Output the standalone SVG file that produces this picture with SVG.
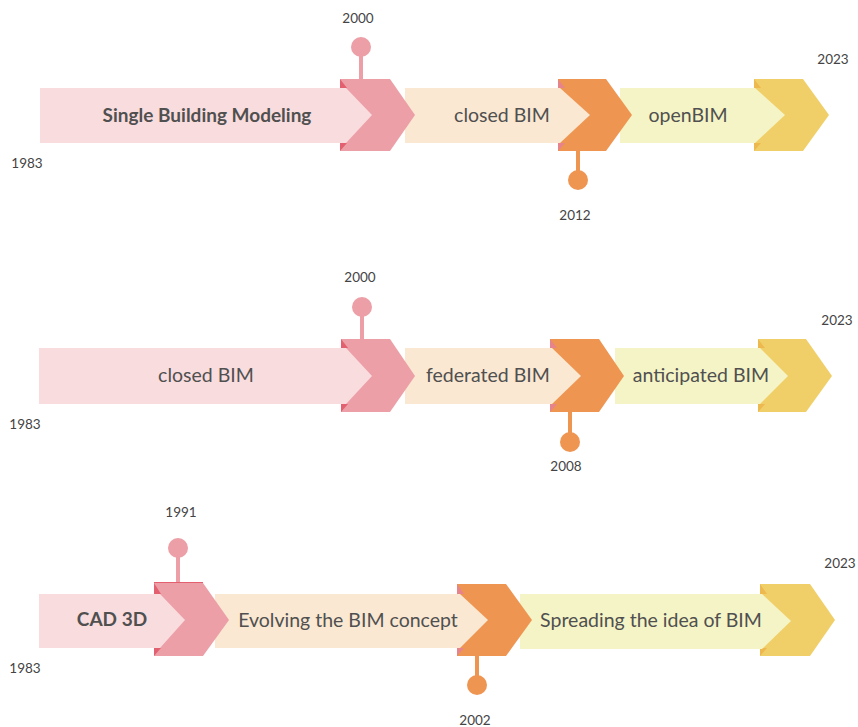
<svg xmlns="http://www.w3.org/2000/svg" width="858" height="727" viewBox="0 0 858 727">
<style>
.bp{fill:#F9DDDE}.bpe{fill:#FAE8D3}.by{fill:#F5F4C6}
.cp{fill:#EC9FA6}.co{fill:#EF9552}.cy{fill:#F0CF68}
.tp{fill:#E2606F}.to{fill:#E7838A}.ty{fill:#EDB84E}
.lbl{font-family:Lato,"Liberation Sans",sans-serif;font-size:19.5px;fill:#505050;text-anchor:middle}
.b{font-weight:bold;font-size:19px}
.yr{font-family:Lato,"Liberation Sans",sans-serif;font-size:13.5px;fill:#444;text-anchor:middle}
</style>
<rect width="858" height="727" fill="#fff"/>

<!-- Row 1 -->
<g id="r1-yellow-chevron"><polygon class="cy" points="754,79 803,79 829,115 803,151 754,151"/><polygon class="ty" points="754,79 754,88 761,88"/><polygon class="ty" points="754,143 761,143 754,151"/></g>
<g id="r1-openbim"><polygon class="by" points="620,88 755,88 785,115 755,143 620,143"/><text class="lbl" x="688" y="122">openBIM</text></g>
<g id="r1-m2012"><rect class="co" x="576" y="151" width="4" height="29"/><circle class="co" cx="578" cy="180" r="10"/><polygon class="co" points="558,79 606,79 632,115 606,151 558,151"/><polygon class="to" points="558,79 558,88 565,88"/><polygon class="to" points="558,143 565,143 558,151"/></g>
<g id="r1-closed"><polygon class="bpe" points="405,88 560,88 590,115 560,143 405,143"/><text class="lbl" x="502" y="122">closed BIM</text></g>
<g id="r1-m2000"><rect class="cp" x="359" y="47" width="4" height="32"/><circle class="cp" cx="361" cy="47" r="10"/><polygon class="cp" points="340,79 390,79 415,115 390,151 340,151"/><polygon class="tp" points="340,79 340,88 347,88"/><polygon class="tp" points="340,143 347,143 340,151"/></g>
<g id="r1-single"><polygon class="bp" points="40,88 346,88 372,115 346,143 40,143"/><text class="lbl b" x="207" y="122">Single Building Modeling</text></g>
<g id="r1-years"><text class="yr" x="358" y="23">2000</text><text class="yr" x="575" y="220">2012</text><text class="yr" x="833" y="64">2023</text><text class="yr" x="27" y="168">1983</text></g>

<!-- Row 2 -->
<g id="r2-yellow-chevron"><polygon class="cy" points="758,339 806,339 832,376 806,412 758,412"/><polygon class="ty" points="758,339 758,348 765,348"/><polygon class="ty" points="758,404 765,404 758,412"/></g>
<g id="r2-anticipated"><polygon class="by" points="615,348 760,348 788,376 760,404 615,404"/><text class="lbl" x="701" y="382">anticipated BIM</text></g>
<g id="r2-m2008"><rect class="co" x="568" y="412" width="4" height="30"/><circle class="co" cx="570" cy="442" r="10"/><polygon class="co" points="550,339 599,339 624,376 599,412 550,412"/><polygon class="to" points="550,339 550,348 557,348"/><polygon class="to" points="550,404 557,404 550,412"/></g>
<g id="r2-federated"><polygon class="bpe" points="405,348 552,348 581,376 552,404 405,404"/><text class="lbl" x="488" y="382">federated BIM</text></g>
<g id="r2-m2000"><rect class="cp" x="360" y="307" width="4" height="32"/><circle class="cp" cx="362" cy="307" r="10"/><polygon class="cp" points="341,339 390,339 415,376 390,412 341,412"/><polygon class="tp" points="341,339 341,348 348,348"/><polygon class="tp" points="341,404 348,404 341,412"/></g>
<g id="r2-closed"><polygon class="bp" points="39,348 346,348 372,376 346,404 39,404"/><text class="lbl" x="206" y="382">closed BIM</text></g>
<g id="r2-years"><text class="yr" x="360" y="282">2000</text><text class="yr" x="566" y="471">2008</text><text class="yr" x="837" y="325">2023</text><text class="yr" x="25" y="429">1983</text></g>

<!-- Row 3 -->
<g id="r3-yellow-chevron"><polygon class="cy" points="760,584 810,584 835,620 810,656 760,656"/><polygon class="ty" points="760,584 760,594 767,594"/><polygon class="ty" points="760,648 767,648 760,656"/></g>
<g id="r3-spreading"><polygon class="by" points="520,594 762,594 791,621 762,649 520,649"/><text class="lbl" x="651" y="627">Spreading the idea of BIM</text></g>
<g id="r3-m2002"><rect class="co" x="475" y="656" width="4" height="29"/><circle class="co" cx="477" cy="685" r="10"/><polygon class="co" points="457,584 506,584 532,620 506,656 457,656"/><polygon class="to" points="457,584 457,594 464,594"/><polygon class="to" points="457,648 464,648 457,656"/></g>
<g id="r3-evolving"><polygon class="bpe" points="215,594 460,594 488,620 460,648 215,648"/><text class="lbl" x="348" y="627">Evolving the BIM concept</text></g>
<g id="r3-m1991"><rect class="cp" x="176" y="548" width="4" height="35"/><circle class="cp" cx="178" cy="548" r="10"/><rect class="tp" x="154" y="582" width="49" height="2"/><polygon class="cp" points="154,583 203,583 229,620 203,656 154,656"/><polygon class="tp" points="154,583 154,594 161,594"/><polygon class="tp" points="154,648 161,648 154,656"/></g>
<g id="r3-cad"><polygon class="bp" points="39,594 160,594 185,620 160,648 39,648"/><text class="lbl b" x="112" y="626">CAD 3D</text></g>
<g id="r3-years"><text class="yr" x="181" y="517">1991</text><text class="yr" x="475" y="725">2002</text><text class="yr" x="840" y="568">2023</text><text class="yr" x="25" y="673">1983</text></g>
<g id="connectors"/>
</svg>
